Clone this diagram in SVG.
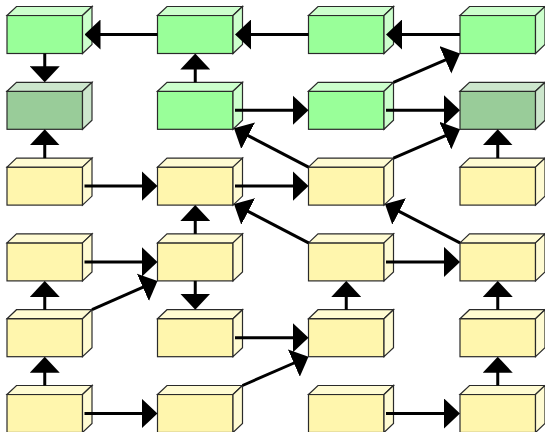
<svg xmlns="http://www.w3.org/2000/svg" width="545" height="432" viewBox="0 0 545 432">
<style>
rect,polygon{stroke:#2a2a2a;stroke-width:1.2}
.lg .f{fill:#99ff99}.lg .t,.lg .s{fill:#ccffcc}
.dg .f{fill:#99cc99}.dg .t,.dg .s{fill:#cce6cc}
.ye .f{fill:#fff6ad}.ye .t,.ye .s{fill:#fffbd2}
.ln{fill:none;stroke:#000;stroke-width:3}
</style>
<defs>
<marker id="ah" viewBox="0 0 16 30" refX="4" refY="15" markerWidth="16" markerHeight="30" markerUnits="userSpaceOnUse" orient="auto">
<path d="M0,0 L16,15 L0,30 Z" fill="#000" stroke="none"/>
</marker>
</defs>
<g id="nodes">
<g id="n11" class="lg" transform="translate(7,15.5)"><rect class="f" width="75.5" height="38"/><polygon class="t" points="0,0 9.5,-9 85,-9 75.5,0"/><polygon class="s" points="75.5,0 85,-9 85,29 75.5,38"/></g>
<g id="n12" class="lg" transform="translate(157.5,15.5)"><rect class="f" width="75.5" height="38"/><polygon class="t" points="0,0 9.5,-9 85,-9 75.5,0"/><polygon class="s" points="75.5,0 85,-9 85,29 75.5,38"/></g>
<g id="n13" class="lg" transform="translate(308.5,15.5)"><rect class="f" width="75.5" height="38"/><polygon class="t" points="0,0 9.5,-9 85,-9 75.5,0"/><polygon class="s" points="75.5,0 85,-9 85,29 75.5,38"/></g>
<g id="n14" class="lg" transform="translate(460,15.5)"><rect class="f" width="75.5" height="38"/><polygon class="t" points="0,0 9.5,-9 85,-9 75.5,0"/><polygon class="s" points="75.5,0 85,-9 85,29 75.5,38"/></g>
<g id="n21" class="dg" transform="translate(7,91.3)"><rect class="f" width="75.5" height="38"/><polygon class="t" points="0,0 9.5,-9 85,-9 75.5,0"/><polygon class="s" points="75.5,0 85,-9 85,29 75.5,38"/></g>
<g id="n22" class="lg" transform="translate(157.5,91.3)"><rect class="f" width="75.5" height="38"/><polygon class="t" points="0,0 9.5,-9 85,-9 75.5,0"/><polygon class="s" points="75.5,0 85,-9 85,29 75.5,38"/></g>
<g id="n23" class="lg" transform="translate(308.5,91.3)"><rect class="f" width="75.5" height="38"/><polygon class="t" points="0,0 9.5,-9 85,-9 75.5,0"/><polygon class="s" points="75.5,0 85,-9 85,29 75.5,38"/></g>
<g id="n24" class="dg" transform="translate(460,91.3)"><rect class="f" width="75.5" height="38"/><polygon class="t" points="0,0 9.5,-9 85,-9 75.5,0"/><polygon class="s" points="75.5,0 85,-9 85,29 75.5,38"/></g>
<g id="n31" class="ye" transform="translate(7,167.1)"><rect class="f" width="75.5" height="38"/><polygon class="t" points="0,0 9.5,-9 85,-9 75.5,0"/><polygon class="s" points="75.5,0 85,-9 85,29 75.5,38"/></g>
<g id="n32" class="ye" transform="translate(157.5,167.1)"><rect class="f" width="75.5" height="38"/><polygon class="t" points="0,0 9.5,-9 85,-9 75.5,0"/><polygon class="s" points="75.5,0 85,-9 85,29 75.5,38"/></g>
<g id="n33" class="ye" transform="translate(308.5,167.1)"><rect class="f" width="75.5" height="38"/><polygon class="t" points="0,0 9.5,-9 85,-9 75.5,0"/><polygon class="s" points="75.5,0 85,-9 85,29 75.5,38"/></g>
<g id="n34" class="ye" transform="translate(460,167.1)"><rect class="f" width="75.5" height="38"/><polygon class="t" points="0,0 9.5,-9 85,-9 75.5,0"/><polygon class="s" points="75.5,0 85,-9 85,29 75.5,38"/></g>
<g id="n41" class="ye" transform="translate(7,242.9)"><rect class="f" width="75.5" height="38"/><polygon class="t" points="0,0 9.5,-9 85,-9 75.5,0"/><polygon class="s" points="75.5,0 85,-9 85,29 75.5,38"/></g>
<g id="n42" class="ye" transform="translate(157.5,242.9)"><rect class="f" width="75.5" height="38"/><polygon class="t" points="0,0 9.5,-9 85,-9 75.5,0"/><polygon class="s" points="75.5,0 85,-9 85,29 75.5,38"/></g>
<g id="n43" class="ye" transform="translate(308.5,242.9)"><rect class="f" width="75.5" height="38"/><polygon class="t" points="0,0 9.5,-9 85,-9 75.5,0"/><polygon class="s" points="75.5,0 85,-9 85,29 75.5,38"/></g>
<g id="n44" class="ye" transform="translate(460,242.9)"><rect class="f" width="75.5" height="38"/><polygon class="t" points="0,0 9.5,-9 85,-9 75.5,0"/><polygon class="s" points="75.5,0 85,-9 85,29 75.5,38"/></g>
<g id="n51" class="ye" transform="translate(7,318.7)"><rect class="f" width="75.5" height="38"/><polygon class="t" points="0,0 9.5,-9 85,-9 75.5,0"/><polygon class="s" points="75.5,0 85,-9 85,29 75.5,38"/></g>
<g id="n52" class="ye" transform="translate(157.5,318.7)"><rect class="f" width="75.5" height="38"/><polygon class="t" points="0,0 9.5,-9 85,-9 75.5,0"/><polygon class="s" points="75.5,0 85,-9 85,29 75.5,38"/></g>
<g id="n53" class="ye" transform="translate(308.5,318.7)"><rect class="f" width="75.5" height="38"/><polygon class="t" points="0,0 9.5,-9 85,-9 75.5,0"/><polygon class="s" points="75.5,0 85,-9 85,29 75.5,38"/></g>
<g id="n54" class="ye" transform="translate(460,318.7)"><rect class="f" width="75.5" height="38"/><polygon class="t" points="0,0 9.5,-9 85,-9 75.5,0"/><polygon class="s" points="75.5,0 85,-9 85,29 75.5,38"/></g>
<g id="n61" class="ye" transform="translate(7,394.5)"><rect class="f" width="75.5" height="38"/><polygon class="t" points="0,0 9.5,-9 85,-9 75.5,0"/><polygon class="s" points="75.5,0 85,-9 85,29 75.5,38"/></g>
<g id="n62" class="ye" transform="translate(157.5,394.5)"><rect class="f" width="75.5" height="38"/><polygon class="t" points="0,0 9.5,-9 85,-9 75.5,0"/><polygon class="s" points="75.5,0 85,-9 85,29 75.5,38"/></g>
<g id="n63" class="ye" transform="translate(308.5,394.5)"><rect class="f" width="75.5" height="38"/><polygon class="t" points="0,0 9.5,-9 85,-9 75.5,0"/><polygon class="s" points="75.5,0 85,-9 85,29 75.5,38"/></g>
<g id="n64" class="ye" transform="translate(460,394.5)"><rect class="f" width="75.5" height="38"/><polygon class="t" points="0,0 9.5,-9 85,-9 75.5,0"/><polygon class="s" points="75.5,0 85,-9 85,29 75.5,38"/></g>
</g>
<g id="edges" class="ln" marker-end="url(#ah)">
<path d="M157.5,34.5 L96.5,34.5"/>
<path d="M308.5,34.5 L247,34.5"/>
<path d="M460,34.5 L398,34.5"/>
<path d="M235,110.3 L296.5,110.3"/>
<path d="M386,110.3 L448,110.3"/>
<path d="M84.5,186.1 L145.5,186.1"/>
<path d="M235,186.1 L296.5,186.1"/>
<path d="M84.5,261.9 L145.5,261.9"/>
<path d="M386,261.9 L448,261.9"/>
<path d="M235,337.7 L296.5,337.7"/>
<path d="M84.5,413.5 L145.5,413.5"/>
<path d="M386,413.5 L448,413.5"/>
<path d="M44.75,53.5 L44.75,70.3"/>
<path d="M44.75,158.1 L44.75,141.3"/>
<path d="M44.75,309.7 L44.75,292.9"/>
<path d="M44.75,385.5 L44.75,368.7"/>
<path d="M195.25,82.3 L195.25,65.5"/>
<path d="M195.25,233.9 L195.25,217.1"/>
<path d="M195.25,280.9 L195.25,297.7"/>
<path d="M346.25,309.7 L346.25,292.9"/>
<path d="M497.75,158.1 L497.75,141.3"/>
<path d="M497.75,309.7 L497.75,292.9"/>
<path d="M497.75,385.5 L497.75,368.7"/>
<path d="M393.5,82.3 L448.99,58.27"/>
<path d="M393.5,158.1 L448.99,134.07"/>
<path d="M92,309.7 L146.52,285.73"/>
<path d="M242.5,385.5 L297.5,361.5"/>
<path d="M308.5,167.1 L244.64,133.84"/>
<path d="M308.5,242.9 L244.64,209.64"/>
<path d="M460,242.9 L395.66,209.61"/>
</g>
</svg>
